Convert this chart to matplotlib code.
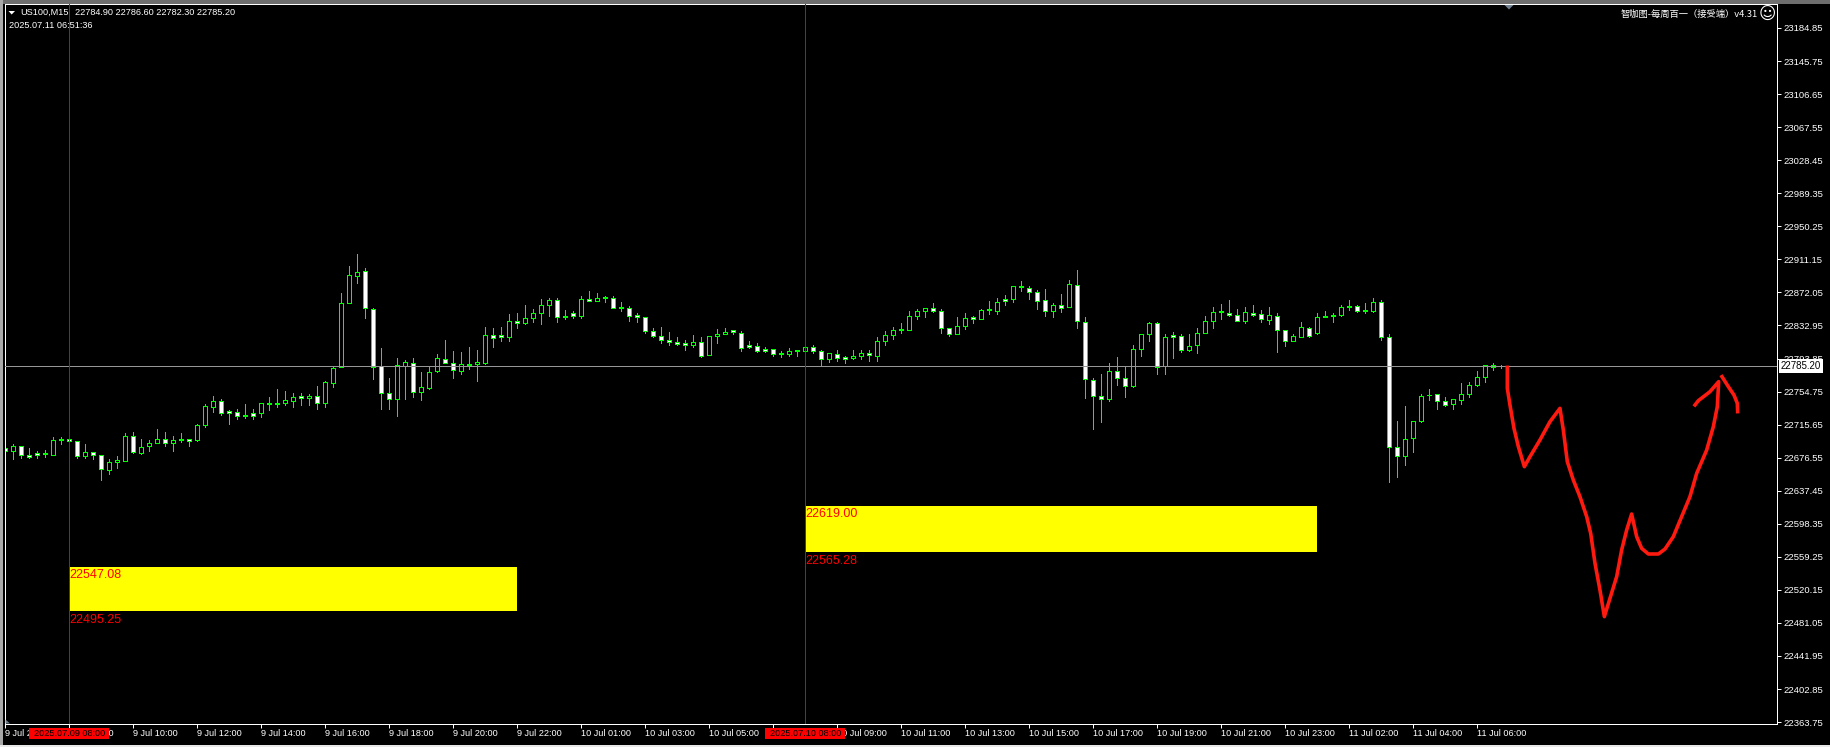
import matplotlib
matplotlib.use("Agg")
import matplotlib.pyplot as plt
from matplotlib.patches import Polygon, Rectangle
from matplotlib.transforms import blended_transform_factory

W, H = 1830, 747

opens = [22687.4, 22684.3, 22690.6, 22679.9, 22681.5, 22681.9, 22679.5, 22698.1, 22698.1, 22696.5,
         22678.3, 22683.5, 22679.9, 22661.8, 22671.3, 22672.4, 22702.4, 22681.9, 22690.2, 22693.7,
         22698.8, 22693.7, 22698.8, 22698.8, 22697.3, 22715.0, 22736.3, 22743.8, 22731.2, 22730.8,
         22727.6, 22728.8, 22729.2, 22741.8, 22741.8, 22741.0, 22743.4, 22749.0, 22747.0, 22749.7,
         22741.0, 22764.7, 22783.7, 22859.4, 22891.3, 22897.6, 22852.6, 22784.5, 22753.3, 22745.8,
         22785.2, 22788.8, 22754.1, 22758.8, 22778.5, 22793.5, 22788.8, 22778.9, 22787.6, 22787.2,
         22788.0, 22821.9, 22821.1, 22819.1, 22838.5, 22835.7, 22841.6, 22847.5, 22857.0, 22863.3,
         22844.7, 22847.1, 22844.0, 22864.5, 22861.7, 22866.8, 22865.6, 22854.6, 22853.8, 22845.5,
         22843.2, 22826.6, 22820.7, 22816.0, 22813.6, 22811.6, 22809.3, 22813.6, 22797.8, 22820.0,
         22822.7, 22827.0, 22824.2, 22809.3, 22808.9, 22805.3, 22805.3, 22799.8, 22798.6, 22803.4,
         22802.6, 22807.7, 22803.0, 22793.1, 22799.4, 22795.1, 22794.3, 22796.6, 22800.6, 22796.6,
         22814.4, 22821.1, 22828.2, 22827.4, 22844.0, 22849.9, 22853.8, 22850.3, 22830.2, 22822.7,
         22832.1, 22842.4, 22840.4, 22851.9, 22849.9, 22863.7, 22864.1, 22880.2, 22877.5, 22872.8,
         22863.3, 22849.9, 22857.4, 22854.6, 22881.0, 22837.3, 22768.7, 22749.7, 22745.8, 22779.3,
         22771.0, 22761.2, 22804.9, 22822.7, 22836.1, 22784.8, 22821.1, 22820.7, 22803.8, 22809.7,
         22823.8, 22838.0, 22849.5, 22847.9, 22845.5, 22838.0, 22847.9, 22846.7, 22839.2, 22844.3,
         22827.8, 22814.4, 22819.1, 22830.2, 22823.8, 22844.3, 22845.5, 22845.1, 22856.2, 22856.2,
         22851.5, 22849.5, 22860.9, 22819.5, 22689.4, 22678.3, 22699.6, 22719.4, 22750.9, 22752.1,
         22743.8, 22739.9, 22744.6, 22751.3, 22762.3, 22771.8, 22786.4, 22784.9]
highs = [22692.2, 22692.2, 22690.6, 22687.4, 22684.3, 22685.1, 22700.8, 22700.8, 22698.1, 22696.5,
         22693.3, 22683.5, 22679.9, 22674.4, 22679.1, 22705.2, 22707.5, 22698.1, 22696.9, 22709.9,
         22707.5, 22701.6, 22706.3, 22698.8, 22716.6, 22740.2, 22749.0, 22745.4, 22732.4, 22734.7,
         22740.6, 22734.7, 22741.4, 22747.8, 22757.2, 22756.0, 22753.3, 22753.3, 22751.3, 22760.8,
         22767.5, 22784.4, 22870.8, 22902.7, 22916.9, 22901.5, 22853.8, 22805.7, 22770.3, 22793.9,
         22791.5, 22793.9, 22777.3, 22784.4, 22798.6, 22815.2, 22802.2, 22801.0, 22806.9, 22803.4,
         22831.7, 22829.4, 22830.6, 22846.0, 22847.1, 22856.6, 22851.9, 22863.7, 22866.0, 22864.9,
         22850.7, 22849.5, 22867.2, 22873.2, 22870.8, 22867.2, 22867.2, 22860.1, 22855.4, 22847.1,
         22843.2, 22830.2, 22830.6, 22824.7, 22818.7, 22815.2, 22821.1, 22818.7, 22820.7, 22828.2,
         22829.4, 22827.0, 22825.8, 22814.0, 22811.6, 22806.9, 22805.3, 22802.2, 22805.7, 22803.4,
         22807.7, 22809.3, 22804.5, 22800.6, 22803.4, 22797.4, 22803.4, 22804.5, 22804.5, 22818.7,
         22825.8, 22830.6, 22835.3, 22849.5, 22853.0, 22853.8, 22859.0, 22851.9, 22830.2, 22842.4,
         22847.1, 22843.6, 22853.0, 22861.3, 22866.0, 22868.4, 22879.8, 22885.0, 22880.2, 22874.4,
         22875.5, 22859.0, 22869.6, 22886.2, 22898.0, 22842.4, 22770.3, 22776.1, 22788.0, 22795.1,
         22784.8, 22810.4, 22823.1, 22837.6, 22837.6, 22822.3, 22824.7, 22822.3, 22822.3, 22829.4,
         22844.7, 22854.2, 22857.8, 22862.5, 22853.0, 22854.2, 22856.6, 22850.7, 22854.2, 22847.1,
         22827.8, 22823.1, 22836.5, 22831.7, 22847.1, 22849.5, 22847.1, 22856.6, 22862.5, 22856.6,
         22859.0, 22866.0, 22862.5, 22823.4, 22719.4, 22737.1, 22720.1, 22752.1, 22757.2, 22752.1,
         22748.9, 22746.2, 22764.3, 22765.5, 22778.5, 22786.4, 22788.0, 22786.6]
lows = [22681.1, 22674.8, 22675.6, 22675.6, 22675.6, 22677.2, 22679.5, 22692.2, 22695.7, 22675.6,
        22675.6, 22674.4, 22649.6, 22657.8, 22664.9, 22672.4, 22681.5, 22680.3, 22683.9, 22693.7,
        22689.8, 22683.9, 22694.5, 22689.8, 22695.7, 22713.4, 22730.0, 22727.6, 22715.8, 22721.7,
        22722.9, 22721.7, 22724.1, 22732.4, 22735.9, 22738.3, 22735.9, 22738.3, 22738.3, 22733.6,
        22735.9, 22759.6, 22783.7, 22859.4, 22882.6, 22841.2, 22769.1, 22733.6, 22734.7, 22725.3,
        22745.4, 22747.8, 22744.2, 22757.2, 22777.3, 22788.4, 22770.3, 22775.0, 22780.9, 22766.7,
        22786.8, 22806.9, 22814.0, 22814.0, 22829.4, 22834.1, 22836.5, 22834.1, 22844.7, 22836.5,
        22840.0, 22841.2, 22841.2, 22861.7, 22861.7, 22860.1, 22853.4, 22849.5, 22838.8, 22837.6,
        22823.5, 22818.7, 22811.6, 22810.4, 22809.3, 22804.5, 22806.9, 22795.1, 22797.8, 22811.6,
        22822.3, 22822.3, 22802.2, 22805.7, 22801.0, 22801.0, 22796.3, 22795.1, 22796.3, 22797.4,
        22802.6, 22799.8, 22785.6, 22789.2, 22790.4, 22788.0, 22792.7, 22792.7, 22790.4, 22790.4,
        22810.4, 22817.5, 22823.5, 22827.4, 22840.0, 22842.4, 22848.3, 22823.5, 22820.0, 22822.7,
        22828.2, 22835.3, 22840.0, 22846.0, 22846.0, 22856.6, 22860.1, 22873.2, 22863.7, 22853.0,
        22844.7, 22842.4, 22848.3, 22854.6, 22829.4, 22746.6, 22709.9, 22718.2, 22743.0, 22762.0,
        22747.8, 22759.6, 22797.4, 22814.0, 22775.0, 22776.1, 22793.9, 22801.0, 22802.2, 22799.8,
        22823.8, 22829.4, 22840.0, 22843.6, 22838.0, 22835.3, 22843.6, 22836.5, 22834.1, 22801.0,
        22808.1, 22814.4, 22819.1, 22818.7, 22822.3, 22842.4, 22836.5, 22843.6, 22851.8, 22848.3,
        22847.1, 22848.3, 22816.3, 22647.2, 22653.1, 22667.3, 22682.7, 22718.2, 22744.2, 22734.7,
        22737.1, 22734.7, 22740.6, 22748.9, 22760.8, 22765.5, 22779.7, 22782.3]
closes = [22684.3, 22690.6, 22679.5, 22677.9, 22679.5, 22681.1, 22697.7, 22697.3, 22695.7, 22678.3,
          22683.5, 22679.5, 22663.0, 22671.7, 22674.0, 22702.4, 22683.1, 22689.4, 22694.1, 22698.8,
          22693.7, 22697.7, 22696.9, 22696.1, 22715.4, 22737.9, 22743.8, 22729.2, 22728.8, 22725.7,
          22725.3, 22726.4, 22741.4, 22740.6, 22740.6, 22745.0, 22748.5, 22746.6, 22749.7, 22741.0,
          22766.3, 22782.9, 22859.7, 22892.9, 22896.4, 22853.4, 22783.7, 22752.9, 22745.8, 22786.4,
          22789.2, 22754.1, 22760.4, 22778.1, 22794.7, 22788.4, 22780.1, 22787.6, 22785.6, 22790.0,
          22821.9, 22818.0, 22818.7, 22838.5, 22835.7, 22842.0, 22847.9, 22857.4, 22863.3, 22842.8,
          22842.4, 22844.7, 22864.5, 22861.7, 22865.6, 22865.6, 22853.4, 22853.4, 22844.0, 22842.4,
          22826.2, 22820.0, 22815.6, 22813.2, 22810.8, 22810.4, 22813.6, 22797.4, 22820.7, 22823.1,
          22825.4, 22825.0, 22806.1, 22806.9, 22802.6, 22802.6, 22799.0, 22798.6, 22803.0, 22802.2,
          22807.7, 22802.6, 22793.1, 22800.6, 22794.3, 22793.1, 22797.0, 22800.6, 22797.8, 22814.8,
          22821.9, 22827.8, 22827.0, 22844.3, 22850.3, 22853.8, 22849.9, 22829.8, 22822.7, 22832.5,
          22842.0, 22840.4, 22851.5, 22850.7, 22861.0, 22861.7, 22879.8, 22878.3, 22872.4, 22861.7,
          22849.9, 22857.4, 22853.4, 22882.2, 22838.0, 22769.5, 22749.3, 22745.8, 22779.3, 22770.7,
          22761.2, 22805.3, 22823.1, 22836.1, 22783.7, 22819.5, 22819.1, 22803.8, 22808.9, 22824.2,
          22838.4, 22849.1, 22848.3, 22845.1, 22838.0, 22849.1, 22845.1, 22840.4, 22845.5, 22827.4,
          22814.4, 22820.7, 22831.3, 22820.3, 22843.2, 22842.8, 22844.0, 22855.0, 22854.2, 22849.9,
          22849.9, 22860.9, 22819.1, 22689.0, 22678.3, 22698.9, 22720.1, 22749.7, 22750.1, 22743.4,
          22738.7, 22746.2, 22752.1, 22762.7, 22772.2, 22786.4, 22783.6, 22785.2]

price_ticks = [23184.85, 23145.75, 23106.65, 23067.55, 23028.45, 22989.35, 22950.25, 22911.15,
               22872.05, 22832.95, 22793.85, 22754.75, 22715.65, 22676.55, 22637.45, 22598.35,
               22559.25, 22520.15, 22481.05, 22441.95, 22402.85, 22363.75]
time_labels = ["9 Jul 2025", "9 Jul 08:00", "9 Jul 10:00", "9 Jul 12:00", "9 Jul 14:00", "9 Jul 16:00",
               "9 Jul 18:00", "9 Jul 20:00", "9 Jul 22:00", "10 Jul 01:00", "10 Jul 03:00", "10 Jul 05:00",
               "10 Jul 07:00", "10 Jul 09:00", "10 Jul 11:00", "10 Jul 13:00", "10 Jul 15:00", "10 Jul 17:00",
               "10 Jul 19:00", "10 Jul 21:00", "10 Jul 23:00", "11 Jul 02:00", "11 Jul 04:00", "11 Jul 06:00"]

zone_start = [8, 100]
zone_end = [64, 164]
zone_top = [22547.08, 22619.00]
zone_bottom = [22495.25, 22565.28]
cross_labels = ["2025.07.09 08:00", "2025.07.10 08:00"]

# hand drawn red path
pen_x = [187.75, 187.75, 188.08, 188.58, 189.13, 189.88, 190.58, 191.83, 193.08, 194.33, 194.75, 195.25, 196.0,
         196.83, 197.67, 198.17, 198.71, 199.33, 199.88, 200.58, 201.42, 202.04, 202.67, 203.29, 203.92, 204.54,
         205.38, 206.63, 207.46, 208.5, 209.54, 210.58, 211.42, 212.67, 213.5, 214.0, 214.17, 213.08, 211.63, 211.21]
pen_y = [22783.4, 22758.6, 22738.9, 22711.3, 22689.6, 22665.9, 22677.7, 22697.5, 22719.1, 22734.9, 22709.3, 22671.8,
         22650.1, 22630.4, 22606.8, 22587.0, 22551.6, 22520.0, 22488.5, 22510.1, 22535.8, 22567.3, 22591.0, 22609.9,
         22583.1, 22569.3, 22562.6, 22562.6, 22568.5, 22583.1, 22606.8, 22630.4, 22658.0, 22685.6, 22713.2, 22736.9,
         22766.5, 22754.6, 22744.0, 22738.9]
pen2_x = [214.58, 215.38, 216.08, 216.5, 216.54]
pen2_y = [22772.4, 22760.5, 22750.7, 22740.8, 22731.0]

last_price = closes[-1]
GREEN = "#00ff00"
RED = "#e00000"
FONT = "Liberation Sans"
CJK = ["Noto Sans CJK SC", "DejaVu Sans"]


def px(x, y):
    return x / W, 1 - y / H


fig = plt.figure(figsize=(W / 100, H / 100), dpi=100, facecolor="black")
ax = fig.add_axes([5 / W, 23 / H, 1772 / W, 720 / H], facecolor="black")
ax.set_xlim(-0.04, 221.46)
ax.set_ylim(22361.5, 23213.2)

xs = list(range(len(opens)))
ax.vlines(xs, lows, highs, color=GREEN, lw=0.72, antialiased=False, zorder=2)
body_low = [min(o, c) for o, c in zip(opens, closes)]
body_h = [abs(o - c) for o, c in zip(opens, closes)]
fills = ["black" if c > o else "white" for o, c in zip(opens, closes)]
ax.bar(xs, body_h, 0.5, body_low, color=fills, edgecolor=GREEN, lw=0.72, antialiased=False, zorder=2.1)

for s, e, t, b in zip(zone_start, zone_end, zone_top, zone_bottom):
    ax.bar(s, t - b, e - s, b, align="edge", color="#ffff00", lw=0, antialiased=False, zorder=1.5)
    ax.annotate("%.2f" % t, (s, t), xytext=(0, -8), textcoords="offset pixels", color="#ff0000",
                fontsize=9, family=FONT, va="center", zorder=3)
    ax.annotate("%.2f" % b, (s, b), xytext=(0, -9), textcoords="offset pixels", color="#ff0000",
                fontsize=9, family=FONT, va="center", zorder=3)
    ax.axvline(s, color=RED, lw=0.72, antialiased=False, zorder=3.5)

ax.axhline(last_price, color="#969696", lw=0.72, antialiased=False, zorder=3)
ax.plot(pen_x, pen_y, color="#ff1a10", lw=2.6, solid_joinstyle="round", zorder=4)
ax.plot(pen2_x, pen2_y, color="#ff1a10", lw=2.6, solid_joinstyle="round", zorder=4)

for sp in ax.spines.values():
    sp.set_color("white")
    sp.set_linewidth(0.72)

ax.yaxis.tick_right()
ax.set_yticks(price_ticks)
ax.set_yticklabels(["%.2f" % v for v in price_ticks], fontsize=6.8, family=FONT, color="white")
ax.tick_params(axis="y", length=2.9, width=0.72, color="white", pad=1.5)
ax.set_xticks(xs[::8])
ax.set_xticklabels(time_labels, fontsize=6.6, family=FONT, color="white", ha="left")
ax.tick_params(axis="x", length=2.9, width=0.72, color="white", pad=1)

# current price box on the scale
trans = blended_transform_factory(ax.transAxes, ax.transData)
ax.annotate("%.2f" % last_price, (1, last_price), xycoords=trans, xytext=(4, 0), textcoords="offset pixels",
            fontsize=7, family=FONT, color="black", va="center", annotation_clip=False, zorder=6,
            bbox=dict(boxstyle="square,pad=0.2", fc="white", ec="none"))

# red time boxes under the crosshairs
trans_x = blended_transform_factory(ax.transData, ax.transAxes)
for s, lab in zip(zone_start, cross_labels):
    ax.add_patch(Rectangle((s - 5, -15 / 720), 10, 11 / 720, transform=trans_x, color="#ff0000", lw=0,
                           clip_on=False, zorder=5))
    ax.text(s, -9.5 / 720, lab, transform=trans_x, fontsize=6.6, family=FONT, color="black", ha="center",
            va="center", clip_on=False, zorder=6)

# header texts
fig.text(*px(20, 12.5), "US100,M15", fontsize=6.6, family=FONT, color="white", va="center")
fig.text(*px(75.3, 12.5), "22784.90 22786.60 22782.30 22785.20", fontsize=6.6, family=FONT, color="white", va="center")
fig.text(*px(9, 26), "2025.07.11 06:51:36", fontsize=6.6, family=FONT, color="white", va="center")
fig.text(*px(1758, 14), "智咖图-每周百一（接受端）v4.31", fontsize=6.7, family=CJK, color="white", ha="right", va="center")
fig.text(*px(1767, 14), "☺", fontsize=12, family="DejaVu Sans", color="white", ha="center", va="center")

# little window bits: frame and chart markers
fig.add_artist(Rectangle((0, 1 - 3.5 / H), 1, 3.5 / H, transform=fig.transFigure, color="#6e6e6e", lw=0))
fig.add_artist(Rectangle((0, 0), 2.5 / W, 1, transform=fig.transFigure, color="#a8a8a8", lw=0))
fig.add_artist(Rectangle((0, 0), 1, 2.5 / H, transform=fig.transFigure, color="#e8e8e8", lw=0))
fig.add_artist(Polygon([px(8.5, 11), px(15, 11), px(11.7, 14.5)], transform=fig.transFigure, color="white", lw=0))
fig.add_artist(Polygon([px(1504.5, 5), px(1513.5, 5), px(1509, 9.5)], transform=fig.transFigure, color="#708090", lw=0))
fig.add_artist(Polygon([px(5.5, 719.5), px(10, 723.5), px(5.5, 723.5)], transform=fig.transFigure, color="#708090", lw=0))

fig.savefig("out.png", dpi=100, facecolor="black")
